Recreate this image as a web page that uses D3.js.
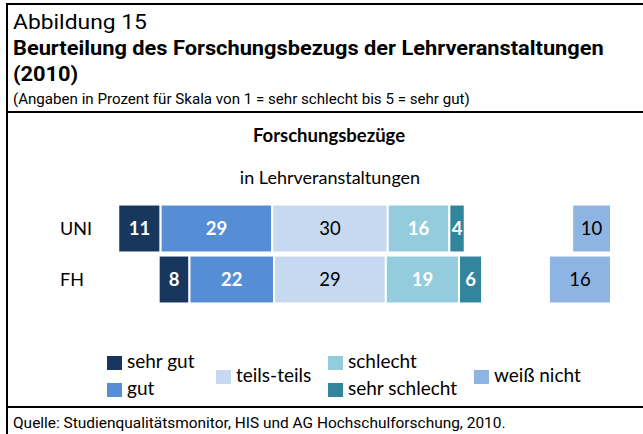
<!DOCTYPE html>
<html>
<head>
<meta charset="utf-8">
<script src="https://cdn.jsdelivr.net/npm/d3@7"></script>
<style>
  html, body { margin: 0; padding: 0; background: #fff; }
  svg { display: block; }
</style>
</head>
<body>
<div id="chart"></div>
<script>
const WIDTH = 643;
const HEIGHT = 434;

// Data.
const groups = ['UNI', 'FH'];
const answers = ['sehr gut', 'gut', 'teils-teils', 'schlecht', 'sehr schlecht'];
const uniValues = [11, 29, 30, 16, 4];
const fhValues = [8, 22, 29, 19, 6];
const dontKnowLabel = 'weiß nicht';
const dontKnow = [10, 16];

const colors = ['#17375e', '#558ed5', '#c6d9f1', '#93cddd', '#31859c'];
const dontKnowColor = '#8eb4e3';
const whiteText = [true, true, false, true, true];

const HEAD_FONT = 'Roboto, "Open Sans", sans-serif';
const CHART_FONT = 'Lato, "Open Sans", sans-serif';

// squeeze a text horizontally so it ends at the given width (header uses a condensed face)
function fitWidth(sel, x, w) {
  const len = sel.node().getComputedTextLength();
  const k = w / len;
  sel.attr('transform', 'translate(' + x + ',0) scale(' + k + ',1) translate(' + (-x) + ',0)');
  return k;
}

var svg = d3.select('#chart').append('svg')
  .attr('width', WIDTH)
  .attr('height', HEIGHT);

// frame lines
svg.append('line').attr('x1', 7).attr('x2', WIDTH).attr('y1', 4).attr('y2', 4)
  .attr('stroke', '#000').attr('stroke-width', 2);
svg.append('line').attr('x1', 7).attr('x2', 7).attr('y1', 3).attr('y2', HEIGHT)
  .attr('stroke', '#000').attr('stroke-width', 2);
svg.append('line').attr('x1', 7).attr('x2', WIDTH).attr('y1', 112).attr('y2', 112)
  .attr('stroke', '#000').attr('stroke-width', 2);
svg.append('line').attr('x1', 7).attr('x2', WIDTH).attr('y1', 407).attr('y2', 407)
  .attr('stroke', '#000').attr('stroke-width', 2);

// header
var t0 = svg.append('text').attr('x', 13).attr('y', 29)
  .attr('font-family', HEAD_FONT).attr('font-size', 21).attr('fill', '#000')
  .text('Abbildung 15');
fitWidth(t0, 13, 134);

var t1 = svg.append('text').attr('x', 13).attr('y', 55)
  .attr('font-family', HEAD_FONT).attr('font-size', 21).attr('font-weight', 'bold').attr('fill', '#000')
  .text('Beurteilung des Forschungsbezugs der Lehrveranstaltungen');
var k1 = fitWidth(t1, 13, 591);

var t2 = svg.append('text').attr('x', 13).attr('y', 81)
  .attr('font-family', HEAD_FONT).attr('font-size', 21).attr('font-weight', 'bold').attr('fill', '#000')
  .text('(2010)');
t2.attr('transform', 'translate(13,0) scale(' + k1 + ',1) translate(-13,0)');

var t3 = svg.append('text').attr('x', 13).attr('y', 104)
  .attr('font-family', HEAD_FONT).attr('font-size', 14).attr('fill', '#000')
  .text('(Angaben in Prozent für Skala von 1 = sehr schlecht bis 5 = sehr gut)');
fitWidth(t3, 13, 457);

var t4 = svg.append('text').attr('x', 13).attr('y', 428)
  .attr('font-family', HEAD_FONT).attr('font-size', 15).attr('fill', '#000')
  .text('Quelle: Studienqualitätsmonitor, HIS und AG Hochschulforschung, 2010.');
fitWidth(t4, 13, 493);

// chart titles
svg.append('text').attr('x', 329).attr('y', 142).attr('text-anchor', 'middle')
  .attr('font-family', CHART_FONT).attr('font-size', 18.5).attr('font-weight', 'bold')
  .text('Forschungsbezüge');
svg.append('text').attr('x', 330).attr('y', 184).attr('text-anchor', 'middle')
  .attr('font-family', CHART_FONT).attr('font-size', 18)
  .text('in Lehrveranstaltungen');

// scales
var x = d3.scaleLinear().domain([-60, 60]).range([330 - 60 * 3.85, 330 + 60 * 3.85]);
var xDk = d3.scaleLinear().domain([0, 20]).range([611, 611 - 20 * 3.88]);
var y = d3.scaleBand().domain(groups).range([203, 305]).paddingInner(0.06).paddingOuter(0.03);

var rows = [uniValues, fhValues];

rows.forEach(function (vals, r) {
  // diverging stack centred on the middle of "teils-teils"
  var start = -(vals[0] + vals[1] + vals[2] / 2);
  var segs = vals.map(function (v, i) {
    var s = start;
    start += v;
    return {v: v, i: i, s: s, e: start};
  });

  var g = svg.append('g').attr('class', 'row');

  g.selectAll('rect').data(segs).enter().append('rect')
    .attr('x', function (d) { return x(d.s); })
    .attr('y', y(groups[r]))
    .attr('width', function (d) { return x(d.e) - x(d.s); })
    .attr('height', y.bandwidth())
    .attr('fill', function (d) { return colors[d.i]; })
    .attr('stroke', '#fff')
    .attr('stroke-width', 2);

  g.selectAll('text').data(segs).enter().append('text')
    .attr('x', function (d) { return (x(d.s) + x(d.e)) / 2; })
    .attr('y', y(groups[r]) + y.bandwidth() / 2)
    .attr('dy', '0.36em')
    .attr('text-anchor', 'middle')
    .attr('font-family', CHART_FONT)
    .attr('font-size', 18.5)
    .attr('font-weight', function (d) { return whiteText[d.i] ? 'bold' : 'normal'; })
    .attr('fill', function (d) { return whiteText[d.i] ? '#fff' : '#000'; })
    .text(function (d) { return d.v; });

  // weiß nicht
  svg.append('rect')
    .attr('x', xDk(dontKnow[r]))
    .attr('y', y(groups[r]))
    .attr('width', xDk(0) - xDk(dontKnow[r]))
    .attr('height', y.bandwidth())
    .attr('fill', dontKnowColor)
    .attr('stroke', '#fff')
    .attr('stroke-width', 2);
  svg.append('text')
    .attr('x', (xDk(0) + xDk(dontKnow[r])) / 2)
    .attr('y', y(groups[r]) + y.bandwidth() / 2)
    .attr('dy', '0.36em')
    .attr('text-anchor', 'middle')
    .attr('font-family', CHART_FONT)
    .attr('font-size', 18.5)
    .text(dontKnow[r]);

  // category label
  svg.append('text')
    .attr('x', 60)
    .attr('y', y(groups[r]) + y.bandwidth() / 2)
    .attr('dy', '0.36em')
    .attr('font-family', CHART_FONT)
    .attr('font-size', 18)
    .text(groups[r]);
});

// legend
var legendItems = [
  {label: answers[0], color: colors[0], x: 107, y: 356},
  {label: answers[1], color: colors[1], x: 107, y: 383},
  {label: answers[2], color: colors[2], x: 216, y: 370},
  {label: answers[3], color: colors[3], x: 328, y: 356},
  {label: answers[4], color: colors[4], x: 328, y: 383},
  {label: dontKnowLabel, color: dontKnowColor, x: 474, y: 370}
];

var legend = svg.append('g').attr('class', 'legend')
  .selectAll('g').data(legendItems).enter().append('g')
  .attr('transform', function (d) { return 'translate(' + d.x + ',' + d.y + ')'; });

legend.append('rect')
  .attr('width', 15).attr('height', 14)
  .attr('fill', function (d) { return d.color; });

legend.append('text')
  .attr('x', 20).attr('y', 12)
  .attr('font-family', CHART_FONT)
  .attr('font-size', 19)
  .text(function (d) { return d.label; });
</script>
</body>
</html>
